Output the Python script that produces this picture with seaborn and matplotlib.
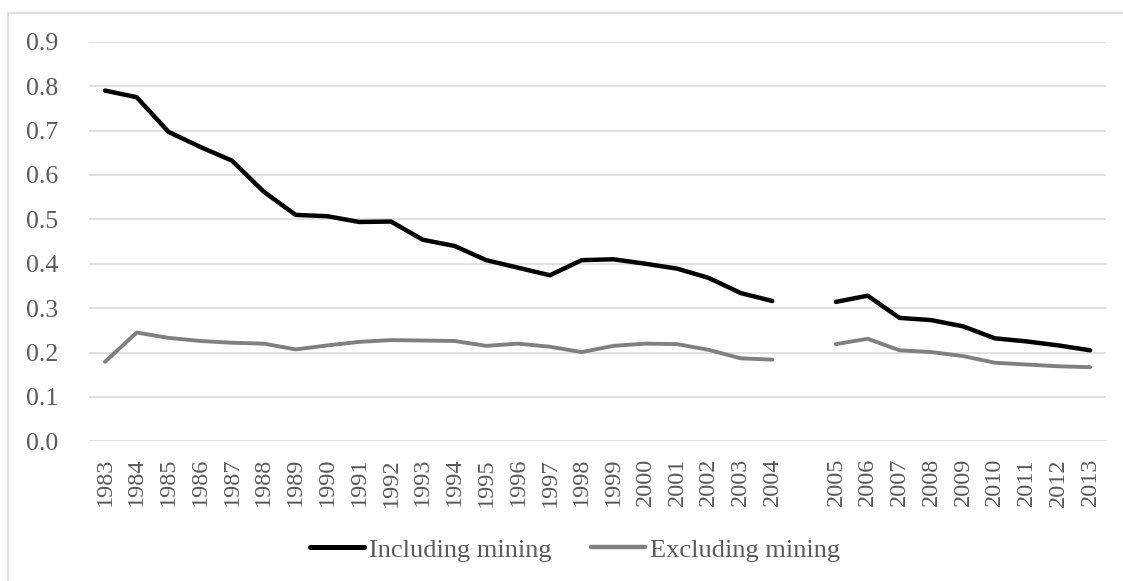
import matplotlib
matplotlib.use("Agg")
import matplotlib.pyplot as plt
from matplotlib.patches import Rectangle
from matplotlib.lines import Line2D
import seaborn as sns
import pandas as pd
import numpy as np

# x categories: 1983-2004, an empty slot, 2005-2013
years_first = [str(y) for y in range(1983, 2005)]
years_second = [str(y) for y in range(2005, 2014)]
tick_labels = years_first + [""] + years_second

including_first = [0.790, 0.775, 0.697, 0.663, 0.632, 0.562, 0.510, 0.507, 0.494, 0.495,
                   0.454, 0.440, 0.408, 0.391, 0.374, 0.408, 0.410, 0.400, 0.389, 0.368,
                   0.334, 0.316]
including_second = [0.314, 0.328, 0.278, 0.273, 0.259, 0.232, 0.225, 0.216, 0.205]

excluding_first = [0.179, 0.245, 0.233, 0.226, 0.222, 0.220, 0.207, 0.216, 0.224, 0.228,
                   0.227, 0.226, 0.215, 0.220, 0.213, 0.201, 0.215, 0.220, 0.219, 0.206,
                   0.187, 0.184]
excluding_second = [0.219, 0.231, 0.205, 0.201, 0.192, 0.177, 0.173, 0.169, 0.167]

series_names = ["Including mining", "Excluding mining"]
colors = {"Including mining": "#000000", "Excluding mining": "#808080"}
widths = {"Including mining": 3.2, "Excluding mining": 2.8}

rows = []
for name, first, second in [("Including mining", including_first, including_second),
                            ("Excluding mining", excluding_first, excluding_second)]:
    for i, v in enumerate(first):
        rows.append({"series": name, "pos": i, "value": v, "segment": 0})
    for i, v in enumerate(second):
        rows.append({"series": name, "pos": len(years_first) + 1 + i, "value": v, "segment": 1})
df = pd.DataFrame(rows)

sns.set_style("white")
plt.rcParams["font.family"] = ["Liberation Serif", "DejaVu Serif"]

fig = plt.figure(figsize=(11.23, 5.81), dpi=100)
ax = fig.add_axes([0.0793, 0.2404, 0.9056, 0.6878])

for name in series_names:
    sns.lineplot(data=df[df.series == name], x="pos", y="value", units="segment",
                 estimator=None, color=colors[name], linewidth=widths[name],
                 solid_capstyle="round", solid_joinstyle="round", ax=ax, zorder=3)

ax.set_ylim(0, 0.9)
ax.set_xlim(-0.5, len(tick_labels) - 0.5)
ax.set_yticks(np.arange(0, 0.91, 0.1))
ax.set_yticklabels([f"{t:.1f}" for t in np.arange(0, 0.91, 0.1)])
ax.set_xticks(range(len(tick_labels)))
ax.set_xticklabels(tick_labels, rotation=90)
ax.tick_params(axis="y", labelsize=18.5, colors="#595959", length=0, pad=22)
ax.tick_params(axis="x", labelsize=17.5, colors="#595959", length=0, pad=12)
ax.set_xlabel("")
ax.set_ylabel("")
ax.grid(axis="y", color="#d9d9d9", linewidth=1.1)
ax.grid(axis="x", visible=False)
for s in ax.spines.values():
    s.set_visible(False)

handles = [Line2D([0], [0], color=colors[n], linewidth=widths[n] + 0.4, solid_capstyle="round")
           for n in series_names]
fig.legend(handles, series_names, loc="center", bbox_to_anchor=(0.512, 0.0534),
           ncol=2, frameon=False, fontsize=19, labelcolor="#595959",
           handlelength=2.05, handletextpad=0.2, columnspacing=1.5)

# chart area border
fig.patches.append(Rectangle((8 / 1123, -0.1), 1.2, (581 - 13) / 581 + 0.1,
                             transform=fig.transFigure, fill=False,
                             edgecolor="#d9d9d9", linewidth=1.2))

fig.savefig("out.png", dpi=100)
